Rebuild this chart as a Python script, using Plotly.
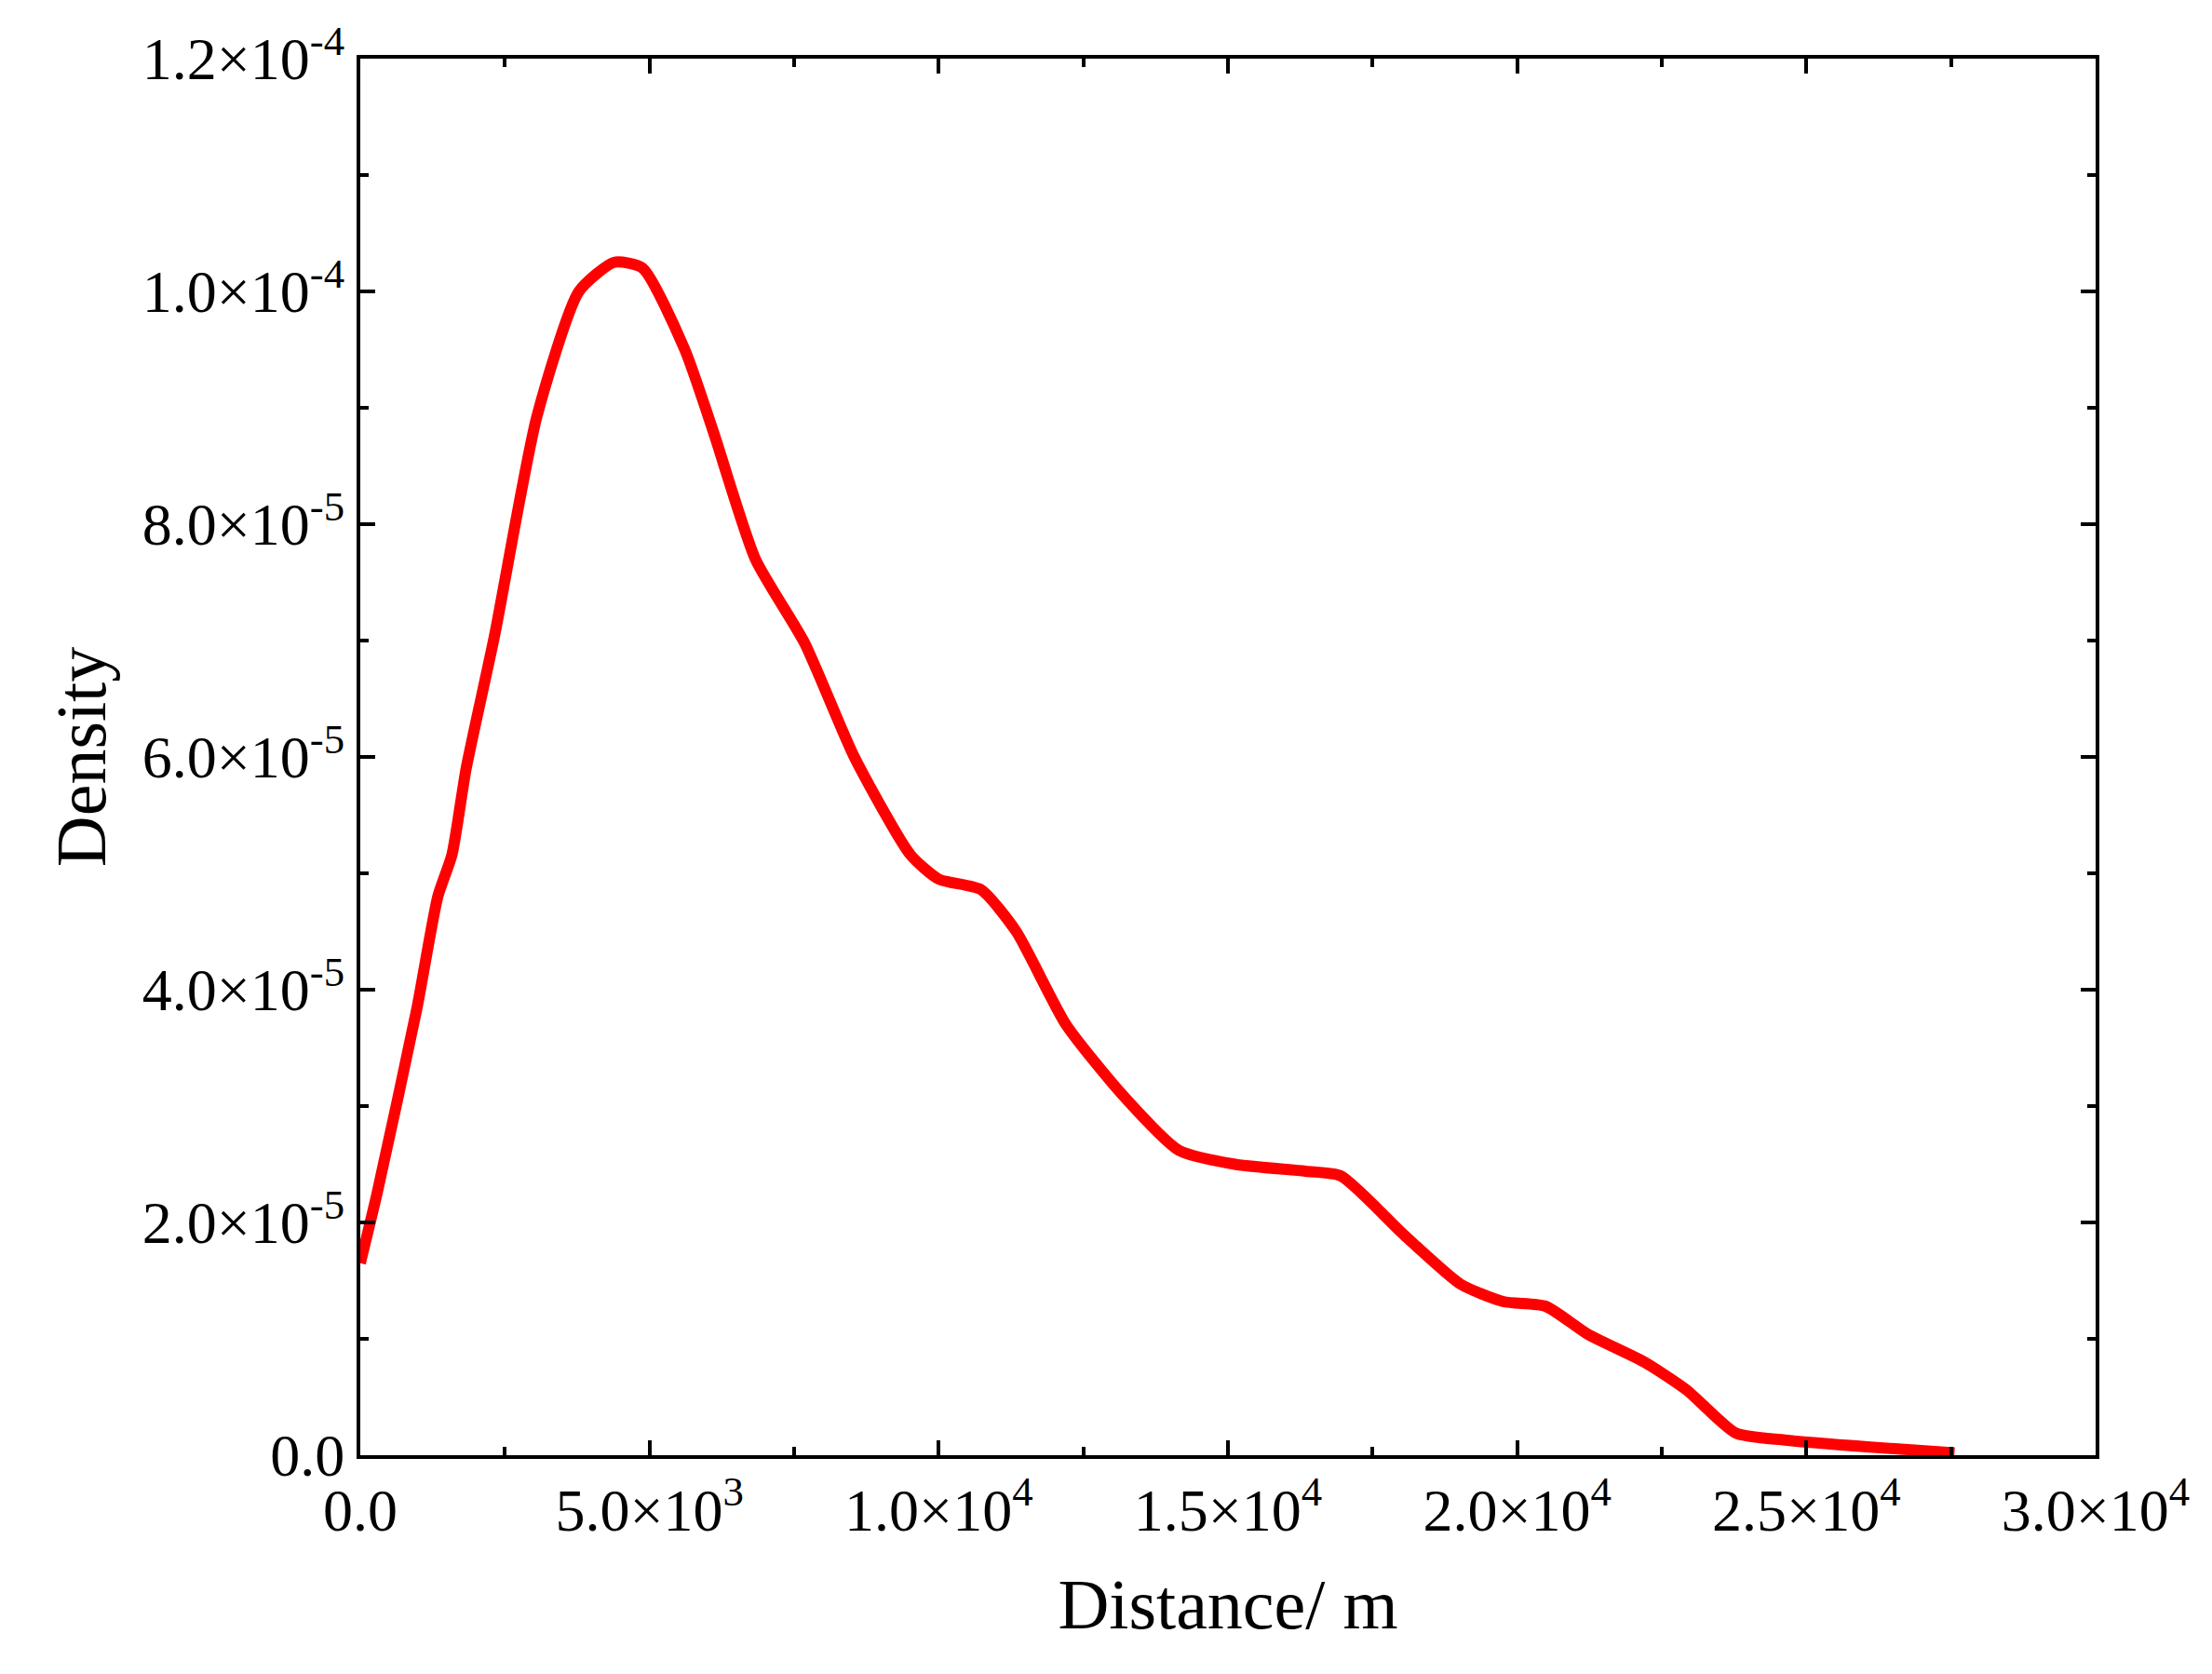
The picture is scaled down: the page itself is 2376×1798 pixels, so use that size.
import plotly.graph_objects as go

distance = [0, 290, 975, 1340, 1585, 1830, 2320, 3050, 3780, 4390, 4880, 5610, 6100, 6830, 7680,
            8540, 9510, 10000, 10730, 11340, 12200, 13170, 14150, 15120, 16340, 16950, 18050,
            19020, 19760, 20490, 21220, 22200, 22930, 23780, 24630, 26100, 27560]
density = [1.65e-5, 2.25e-5, 3.83e-5, 4.8e-5, 5.16e-5, 5.9e-5, 7.04e-5, 8.92e-5, 1.0e-4, 1.025e-4,
           1.02e-4, 9.5e-5, 8.8e-5, 7.7e-5, 6.98e-5, 6.0e-5, 5.16e-5, 4.95e-5, 4.86e-5, 4.5e-5,
           3.7e-5, 3.1e-5, 2.62e-5, 2.5e-5, 2.44e-5, 2.4e-5, 1.89e-5, 1.47e-5, 1.32e-5, 1.28e-5,
           1.04e-5, 8.0e-6, 5.6e-6, 1.9e-6, 1.3e-6, 7e-7, 2e-7]

x_ticks = [0, 5000, 10000, 15000, 20000, 25000, 30000]
x_labels = ["0.0", "5.0×10<sup>3</sup>", "1.0×10<sup>4</sup>", "1.5×10<sup>4</sup>",
            "2.0×10<sup>4</sup>", "2.5×10<sup>4</sup>", "3.0×10<sup>4</sup>"]
y_ticks = [0, 2e-5, 4e-5, 6e-5, 8e-5, 1e-4, 1.2e-4]
y_labels = ["0.0", "2.0×10<sup>-5</sup>", "4.0×10<sup>-5</sup>", "6.0×10<sup>-5</sup>",
            "8.0×10<sup>-5</sup>", "1.0×10<sup>-4</sup>", "1.2×10<sup>-4</sup>"]

fig = go.Figure(go.Scatter(x=distance, y=density, mode="lines",
                           line=dict(color="#ff0000", width=12, shape="spline", smoothing=0.6)))

family = "Liberation Serif, Times New Roman, serif"
font = dict(family=family, size=64, color="black")
axis_common = dict(showline=True, linecolor="black", linewidth=4, mirror="ticks",
                   ticks="inside", ticklen=16, tickwidth=4, tickcolor="black",
                   showgrid=False, zeroline=False, tickfont=font)

fig.update_xaxes(range=[0, 30000], tickvals=x_ticks, ticktext=x_labels,
                 minor=dict(ticks="inside", ticklen=9, tickwidth=4, dtick=2500, tick0=0, tickcolor="black"),
                 title=dict(text="Distance/ m", font=dict(family=family, size=76, color="black"), standoff=40),
                 **axis_common)
fig.update_yaxes(range=[0, 1.2e-4], tickvals=y_ticks, ticktext=y_labels,
                 minor=dict(ticks="inside", ticklen=9, tickwidth=4, dtick=1e-5, tick0=0, tickcolor="black"),
                 title=dict(text="Density", font=dict(family=family, size=76, color="black"), standoff=15),
                 **axis_common)

fig.update_layout(width=2376, height=1798, plot_bgcolor="white", paper_bgcolor="white",
                  margin=dict(l=379, r=133, t=55, b=243), showlegend=False)
fig.write_html("out.html")
